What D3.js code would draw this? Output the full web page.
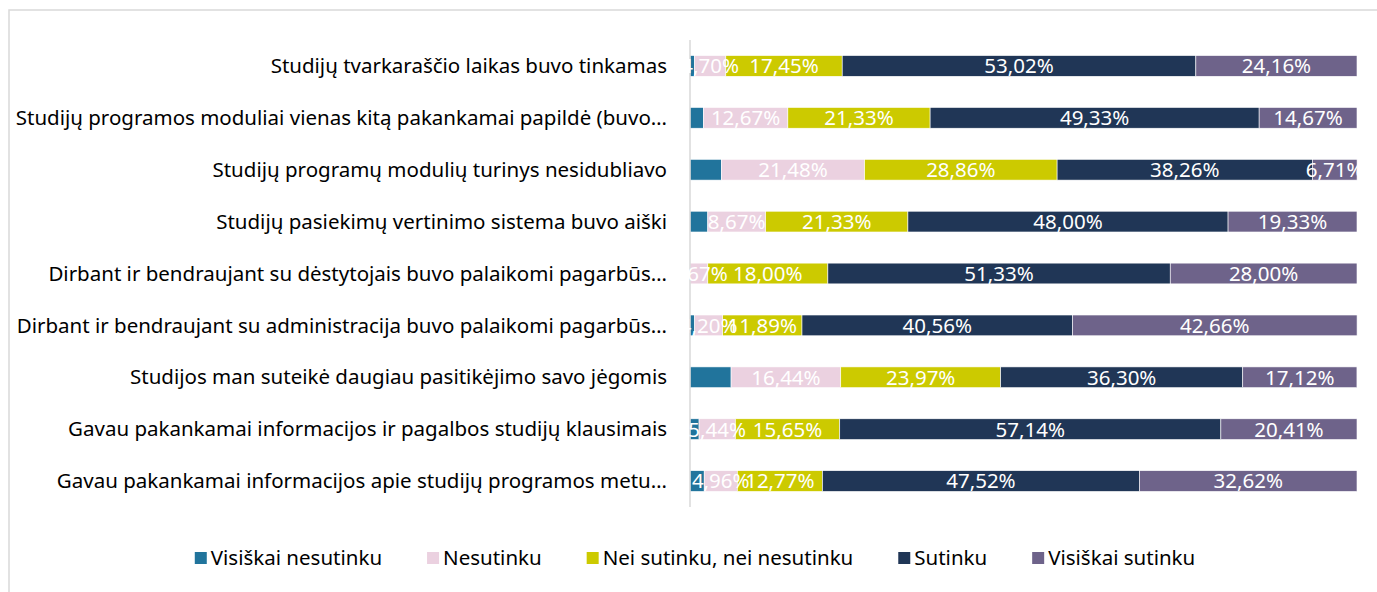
<!DOCTYPE html>
<html>
<head>
<meta charset="utf-8">
<script src="https://cdn.jsdelivr.net/npm/d3@7"></script>
<style>
  body { margin: 0; background: #fff; }
  text { font-family: "Noto Sans", "Open Sans", sans-serif; }
</style>
</head>
<body>
<div id="viz"></div>
<script>
width = 1377;
height = 592;

categories = [
  "Studijų tvarkaraščio laikas buvo tinkamas",
  "Studijų programos moduliai vienas kitą pakankamai papildė (buvo…",
  "Studijų programų modulių turinys nesidubliavo",
  "Studijų pasiekimų vertinimo sistema buvo aiški",
  "Dirbant ir bendraujant su dėstytojais buvo palaikomi pagarbūs…",
  "Dirbant ir bendraujant su administracija buvo palaikomi pagarbūs…",
  "Studijos man suteikė daugiau pasitikėjimo savo jėgomis",
  "Gavau pakankamai informacijos ir pagalbos studijų klausimais",
  "Gavau pakankamai informacijos apie studijų programos metu…"
];

seriesNames = ["Visiškai nesutinku", "Nesutinku", "Nei sutinku, nei nesutinku", "Sutinku", "Visiškai sutinku"];
seriesColors = ["#21749C", "#EBD1E0", "#CCCA00", "#203656", "#6E638A"];
showLabels = [false, true, true, true, true];

visiskaiNesutinku = [0.67, 2.00, 4.70, 2.67, 0.00, 0.70, 6.16, 1.36, 2.13];
nesutinku        = [4.70, 12.67, 21.48, 8.67, 2.67, 4.20, 16.44, 5.44, 4.96];
neiSutinku       = [17.45, 21.33, 28.86, 21.33, 18.00, 11.89, 23.97, 15.65, 12.77];
sutinku          = [53.02, 49.33, 38.26, 48.00, 51.33, 40.56, 36.30, 57.14, 47.52];
visiskaiSutinku  = [24.16, 14.67, 6.71, 19.33, 28.00, 42.66, 17.12, 20.41, 32.62];

series = [visiskaiNesutinku, nesutinku, neiSutinku, sutinku, visiskaiSutinku];

fontSize = "20.5px";

// build rows for the stack
rows = categories.map(function(c, i) {
  var r = {cat: c};
  seriesNames.forEach(function(s, j) { r[s] = series[j][i]; });
  return r;
});

stacked = d3.stack().keys(seriesNames)(rows);

svg = d3.select("#viz").append("svg")
  .attr("width", width)
  .attr("height", height);

// outer frame
svg.append("path")
  .attr("d", "M9," + height + "V10H" + width)
  .attr("fill", "none")
  .attr("stroke", "#d9d9d9")
  .attr("stroke-width", 1.5);

var x = d3.scaleLinear().domain([0, 100]).range([690, 1357]);
var y = d3.scaleBand().domain(categories).range([40, 507])
  .paddingInner(0.6).paddingOuter(0.3);

// category labels
svg.append("g").selectAll("text").data(categories).enter().append("text")
  .attr("x", 667)
  .attr("y", function(d) { return y(d) + y.bandwidth() / 2; })
  .attr("dy", "0.35em")
  .attr("text-anchor", "end")
  .style("font-size", fontSize)
  .attr("fill", "#000")
  .text(function(d) { return d; });

// bars
var bars = svg.append("g");
stacked.forEach(function(layer, j) {
  bars.append("g").attr("fill", seriesColors[j])
    .selectAll("rect").data(layer).enter().append("rect")
    .attr("x", function(d) { return x(d[0]); })
    .attr("y", function(d) { return y(d.data.cat); })
    .attr("width", function(d) { return x(d[1]) - x(d[0]); })
    .attr("height", y.bandwidth())
    .attr("stroke", "#fff")
    .attr("stroke-width", 0.6);
});

// axis line
svg.append("line")
  .attr("x1", x(0)).attr("x2", x(0))
  .attr("y1", y.range()[0]).attr("y2", y.range()[1])
  .attr("stroke", "#d9d9d9")
  .attr("stroke-width", 1.5);

// data labels
var fmt = function(v) { return v.toFixed(2).replace(".", ",") + "%"; };
var labels = svg.append("g");
stacked.forEach(function(layer, j) {
  if (!showLabels[j]) return;
  labels.append("g").selectAll("text").data(layer.filter(function(d) { return d[1] - d[0] > 0; }))
    .enter().append("text")
    .attr("x", function(d) { return (x(d[0]) + x(d[1])) / 2; })
    .attr("y", function(d) { return y(d.data.cat) + y.bandwidth() / 2; })
    .attr("dy", "0.36em")
    .attr("text-anchor", "middle")
    .style("font-size", fontSize)
    .attr("fill", "#fff")
    .text(function(d) { return fmt(d[1] - d[0]); });
});

// legend
var legend = svg.append("g");
var items = legend.selectAll("g").data(seriesNames).enter().append("g");
items.append("rect")
  .attr("width", 12).attr("height", 12)
  .attr("y", 552)
  .attr("fill", function(d, i) { return seriesColors[i]; });
items.append("text")
  .attr("x", 16)
  .attr("y", 558)
  .attr("dy", "0.35em")
  .style("font-size", fontSize)
  .text(function(d) { return d; });

var gap = 45, pos = 0, offsets = [];
items.each(function() {
  offsets.push(pos);
  pos += 16 + this.querySelector("text").getComputedTextLength() + gap;
});
var total = pos - gap;
var startX = 695 - total / 2;
items.attr("transform", function(d, i) { return "translate(" + (startX + offsets[i]) + ",0)"; });
</script>
</body>
</html>
